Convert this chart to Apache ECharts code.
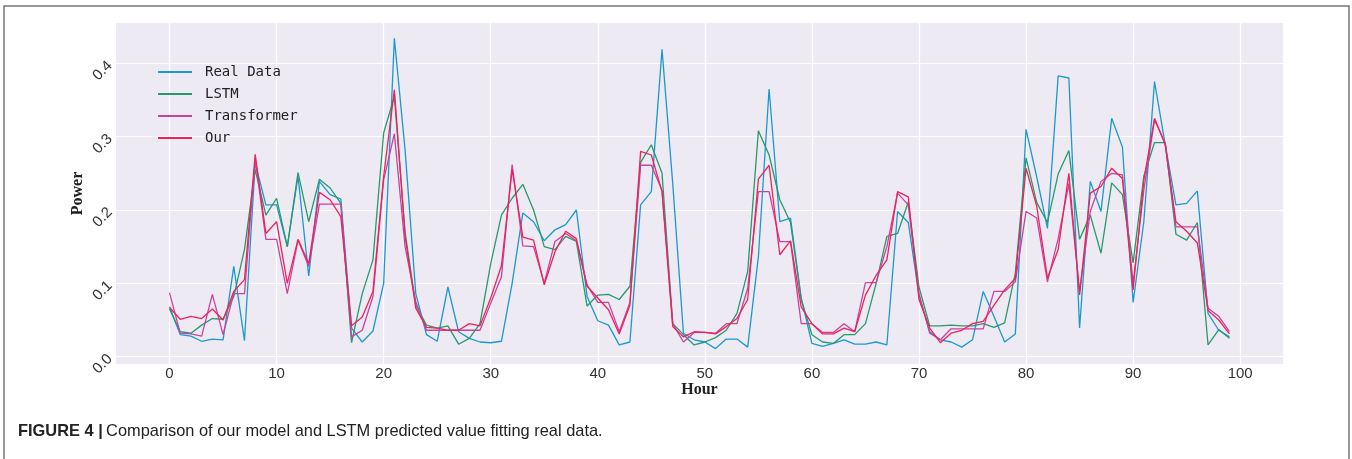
<!DOCTYPE html>
<html>
<head>
<meta charset="utf-8">
<script src="https://cdn.jsdelivr.net/npm/echarts@6.0.0/dist/echarts.min.js"></script>
<style>
  html, body { margin: 0; padding: 0; background: #ffffff; }
  #chart { width: 1352px; height: 459px; }
</style>
</head>
<body>
<div id="chart"></div>
<script>
// ---- data ----
const hours = Array.from({length: 100}, (_, i) => i);

const realData = [
  0.068, 0.030, 0.028, 0.021, 0.024, 0.023, 0.123, 0.022, 0.264, 0.207,
  0.207, 0.150, 0.246, 0.110, 0.239, 0.221, 0.215, 0.039, 0.020, 0.035,
  0.100, 0.434, 0.282, 0.086, 0.030, 0.021, 0.095, 0.034, 0.025, 0.020,
  0.019, 0.021, 0.100, 0.196, 0.184, 0.158, 0.173, 0.180, 0.200, 0.082,
  0.049, 0.043, 0.016, 0.020, 0.207, 0.225, 0.419, 0.236, 0.032, 0.023,
  0.020, 0.011, 0.024, 0.024, 0.013, 0.136, 0.365, 0.184, 0.189, 0.080,
  0.018, 0.014, 0.018, 0.023, 0.017, 0.017, 0.020, 0.016, 0.198, 0.183,
  0.084, 0.034, 0.023, 0.020, 0.013, 0.023, 0.089, 0.055, 0.020, 0.031,
  0.310, 0.245, 0.175, 0.383, 0.380, 0.039, 0.239, 0.198, 0.325, 0.286,
  0.074, 0.184, 0.375, 0.289, 0.207, 0.209, 0.226, 0.059, 0.036, 0.027
];

const lstm = [
  0.065, 0.034, 0.032, 0.043, 0.052, 0.051, 0.082, 0.146, 0.255, 0.193,
  0.216, 0.150, 0.251, 0.184, 0.242, 0.230, 0.209, 0.019, 0.086, 0.132,
  0.305, 0.355, 0.170, 0.070, 0.043, 0.039, 0.042, 0.017, 0.025, 0.045,
  0.127, 0.193, 0.216, 0.235, 0.200, 0.150, 0.146, 0.164, 0.157, 0.069,
  0.084, 0.085, 0.078, 0.096, 0.265, 0.289, 0.250, 0.045, 0.030, 0.016,
  0.020, 0.026, 0.036, 0.059, 0.116, 0.308, 0.275, 0.214, 0.183, 0.078,
  0.030, 0.020, 0.018, 0.030, 0.030, 0.045, 0.100, 0.164, 0.168, 0.211,
  0.095, 0.042, 0.042, 0.043, 0.042, 0.042, 0.045, 0.040, 0.046, 0.114,
  0.271, 0.210, 0.183, 0.249, 0.281, 0.160, 0.193, 0.141, 0.237, 0.221,
  0.128, 0.246, 0.292, 0.292, 0.167, 0.159, 0.183, 0.016, 0.037, 0.025
];

const transformer = [
  0.087, 0.032, 0.031, 0.028, 0.085, 0.030, 0.086, 0.086, 0.270, 0.160,
  0.160, 0.086, 0.159, 0.123, 0.208, 0.208, 0.208, 0.027, 0.036, 0.082,
  0.241, 0.304, 0.150, 0.075, 0.036, 0.036, 0.036, 0.036, 0.036, 0.036,
  0.073, 0.109, 0.262, 0.151, 0.150, 0.100, 0.157, 0.168, 0.158, 0.098,
  0.074, 0.074, 0.034, 0.074, 0.261, 0.261, 0.227, 0.045, 0.020, 0.033,
  0.033, 0.032, 0.045, 0.045, 0.093, 0.225, 0.225, 0.157, 0.157, 0.045,
  0.045, 0.033, 0.033, 0.045, 0.034, 0.101, 0.101, 0.150, 0.223, 0.207,
  0.086, 0.032, 0.023, 0.038, 0.038, 0.038, 0.038, 0.089, 0.089, 0.102,
  0.198, 0.189, 0.102, 0.161, 0.236, 0.089, 0.198, 0.239, 0.250, 0.248,
  0.100, 0.227, 0.323, 0.291, 0.177, 0.177, 0.177, 0.066, 0.055, 0.034
];

const ours = [
  0.067, 0.051, 0.055, 0.052, 0.065, 0.050, 0.089, 0.105, 0.276, 0.168,
  0.184, 0.100, 0.160, 0.127, 0.224, 0.214, 0.191, 0.042, 0.054, 0.089,
  0.246, 0.364, 0.164, 0.066, 0.040, 0.039, 0.036, 0.036, 0.045, 0.042,
  0.080, 0.124, 0.255, 0.163, 0.159, 0.098, 0.143, 0.171, 0.161, 0.096,
  0.080, 0.064, 0.031, 0.070, 0.280, 0.275, 0.225, 0.041, 0.027, 0.034,
  0.033, 0.031, 0.041, 0.052, 0.078, 0.242, 0.261, 0.139, 0.158, 0.068,
  0.045, 0.031, 0.031, 0.039, 0.034, 0.084, 0.111, 0.132, 0.225, 0.218,
  0.078, 0.039, 0.019, 0.032, 0.036, 0.045, 0.048, 0.070, 0.091, 0.107,
  0.257, 0.205, 0.107, 0.146, 0.250, 0.084, 0.223, 0.232, 0.257, 0.243,
  0.091, 0.241, 0.325, 0.289, 0.184, 0.171, 0.155, 0.063, 0.050, 0.031
];

const seriesNames = ['Real Data', 'LSTM', 'Transformer', 'Our'];
const xTickLabels = ['0', '10', '20', '30', '40', '50', '60', '70', '80', '90', '100'];
const yTickLabels = ['0.0', '0.1', '0.2', '0.3', '0.4'];
const captionBold = 'FIGURE 4 |';
const captionText = 'Comparison of our model and LSTM predicted value fitting real data.';

// ---- chart ----
const colors = ['#1c98cf', '#27996a', '#c7439f', '#ec2358'];
const allValues = [realData, lstm, transformer, ours];

function pairs(vals) { return hours.map((h, i) => [h, vals[i]]); }

const chart = echarts.init(document.getElementById('chart'), null, {renderer: 'canvas'});

const transparent = 'rgba(0,0,0,0)';

const option = {
  animation: false,
  backgroundColor: '#ffffff',
  textStyle: { fontFamily: 'Liberation Sans' },
  grid: {
    left: 116, right: 69, top: 23, bottom: 95,
    show: true, backgroundColor: '#edeaf3', borderWidth: 0
  },
  legend: {
    orient: 'vertical',
    left: 158, top: 64, padding: 0,
    itemWidth: 34, itemHeight: 2, itemGap: 6,
    icon: 'rect',
    data: seriesNames,
    textStyle: {
      fontFamily: 'DejaVu Sans Mono', fontSize: 14, color: '#222',
      lineHeight: 16, padding: [0, 0, 0, 8]
    }
  },
  xAxis: {
    type: 'value',
    min: -5, max: 104, interval: 5,
    name: 'Hour', nameLocation: 'middle', nameGap: 18, nameMoveOverlap: false,
    nameTextStyle: { fontFamily: 'Liberation Serif', fontWeight: 'bold', fontSize: 16, color: '#222' },
    axisLine: { show: false },
    axisTick: { show: false },
    axisLabel: {
      fontSize: 15, color: '#333', margin: 2, fontFamily: 'Liberation Sans',
      formatter: function (v) {
        const s = String(Math.round(v));
        return (Math.abs(v - Math.round(v)) < 1e-6 && xTickLabels.indexOf(s) >= 0) ? s : '';
      }
    },
    splitLine: { show: true, lineStyle: { color: [transparent, '#ffffff'], width: 1.2 } }
  },
  yAxis: {
    type: 'value',
    min: -0.01, max: 0.455, interval: 0.01,
    name: 'Power', nameLocation: 'middle', nameGap: 30, nameRotate: 90, nameMoveOverlap: false,
    nameTextStyle: { fontFamily: 'Liberation Serif', fontWeight: 'bold', fontSize: 16, color: '#222' },
    axisLine: { show: false },
    axisTick: { show: false },
    axisLabel: {
      fontSize: 15, color: '#333', margin: 6, rotate: 45, fontFamily: 'Liberation Sans',
      formatter: function (v) {
        const k = Math.round(v * 10);
        if (Math.abs(v * 10 - k) > 1e-6) return '';
        const s = (k / 10).toFixed(1);
        return yTickLabels.indexOf(s) >= 0 ? s : '';
      }
    },
    splitLine: {
      show: true,
      lineStyle: {
        color: [transparent, '#ffffff', transparent, transparent, transparent,
                transparent, transparent, transparent, transparent, transparent],
        width: 1.2
      }
    }
  },
  series: seriesNames.map((name, k) => ({
    name: name,
    type: 'line',
    data: pairs(allValues[k]),
    showSymbol: false,
    symbol: 'none',
    color: colors[k],
    lineStyle: { width: 1.3, color: colors[k] },
    z: 2 + k
  })),
  graphic: [
    {
      type: 'rect', silent: true, z: 100,
      shape: { x: 4, y: 6, width: 1345, height: 480 },
      style: { fill: 'none', stroke: '#777777', lineWidth: 1.5 }
    },
    {
      type: 'text', left: 18, top: 423, z: 100,
      style: {
        text: '{b|' + captionBold + '} {r|' + captionText + '}',
        rich: {
          b: { fontFamily: 'Liberation Sans', fontWeight: 'bold', fontSize: 16.4, fill: '#222' },
          r: { fontFamily: 'Liberation Sans', fontSize: 16.4, fill: '#222' }
        }
      }
    }
  ]
};

chart.setOption(option);
</script>
</body>
</html>
